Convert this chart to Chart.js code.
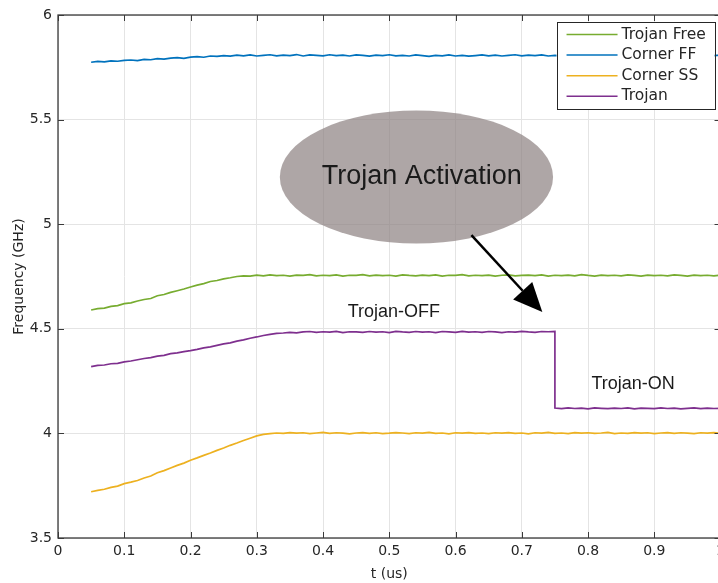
<!DOCTYPE html>
<html lang="en">
<head>
<meta charset="UTF-8">
<title>Trojan Activation</title>
<script src="https://cdn.jsdelivr.net/npm/chart.js"></script>
<style>
html, body { margin: 0; padding: 0; background: #fff; overflow: hidden; }
#wrap { width: 730px; height: 583px; }
</style>
</head>
<body>
<div id="wrap"><canvas id="freq"></canvas></div>
<script>
// time axis (us)
const t = [
  0.05, 0.06, 0.07, 0.08, 0.09, 0.10, 0.11, 0.12, 0.13, 0.14,
  0.15, 0.16, 0.17, 0.18, 0.19, 0.20, 0.21, 0.22, 0.23, 0.24,
  0.25, 0.26, 0.27, 0.28, 0.29, 0.30, 0.31, 0.32, 0.33, 0.34,
  0.35, 0.36, 0.37, 0.38, 0.39, 0.40, 0.41, 0.42, 0.43, 0.44,
  0.45, 0.46, 0.47, 0.48, 0.49, 0.50, 0.51, 0.52, 0.53, 0.54,
  0.55, 0.56, 0.57, 0.58, 0.59, 0.60, 0.61, 0.62, 0.63, 0.64,
  0.65, 0.66, 0.67, 0.68, 0.69, 0.70, 0.71, 0.72, 0.73, 0.74,
  0.75, 0.76, 0.77, 0.78, 0.79, 0.80, 0.81, 0.82, 0.83, 0.84,
  0.85, 0.86, 0.87, 0.88, 0.89, 0.90, 0.91, 0.92, 0.93, 0.94,
  0.95, 0.96, 0.97, 0.98, 0.99, 1.00
];

const trojanFree = [
  4.590, 4.596, 4.599, 4.607, 4.611, 4.620, 4.624, 4.633, 4.640, 4.645,
  4.658, 4.664, 4.674, 4.682, 4.690, 4.700, 4.709, 4.716, 4.726, 4.731,
  4.739, 4.744, 4.750, 4.753, 4.752, 4.757, 4.753, 4.758, 4.754, 4.756,
  4.752, 4.757, 4.755, 4.759, 4.753, 4.756, 4.754, 4.758, 4.752, 4.756,
  4.755, 4.759, 4.753, 4.757, 4.754, 4.756, 4.752, 4.758, 4.755, 4.753,
  4.757, 4.754, 4.758, 4.752, 4.756, 4.755, 4.759, 4.753, 4.756, 4.754,
  4.757, 4.752, 4.756, 4.758, 4.753, 4.755, 4.757, 4.754, 4.758, 4.752,
  4.756, 4.754, 4.757, 4.753, 4.759, 4.755, 4.752, 4.757, 4.754, 4.756,
  4.753, 4.758, 4.755, 4.752, 4.757, 4.754, 4.756, 4.753, 4.758, 4.755,
  4.752, 4.757, 4.754, 4.756, 4.753, 4.757
];

const cornerFF = [
  5.774, 5.778, 5.776, 5.781, 5.779, 5.783, 5.785, 5.782, 5.788, 5.786,
  5.791, 5.789, 5.794, 5.796, 5.793, 5.799, 5.801, 5.798, 5.804, 5.802,
  5.806, 5.803, 5.808, 5.805, 5.809, 5.804, 5.807, 5.810, 5.805, 5.808,
  5.806, 5.811, 5.804, 5.809, 5.807, 5.805, 5.810, 5.806, 5.808, 5.804,
  5.809, 5.807, 5.803, 5.808, 5.806, 5.810, 5.805, 5.807, 5.804, 5.809,
  5.806, 5.802, 5.807, 5.805, 5.809, 5.804, 5.807, 5.803, 5.806, 5.809,
  5.805, 5.808, 5.804, 5.807, 5.810, 5.805, 5.808, 5.806, 5.809, 5.804,
  5.807, 5.805, 5.810, 5.806, 5.808, 5.804, 5.807, 5.805, 5.809, 5.806,
  5.803, 5.808, 5.806, 5.810, 5.805, 5.807, 5.804, 5.809, 5.806, 5.808,
  5.805, 5.807, 5.804, 5.809, 5.806, 5.808
];

const cornerSS = [
  3.721, 3.728, 3.733, 3.742, 3.748, 3.760, 3.767, 3.775, 3.787, 3.796,
  3.812, 3.822, 3.835, 3.847, 3.858, 3.872, 3.883, 3.895, 3.906, 3.919,
  3.930, 3.943, 3.954, 3.966, 3.977, 3.988, 3.995, 3.999, 4.002, 4.000,
  4.004, 4.001, 4.003, 3.999, 4.002, 4.005, 4.000, 4.003, 4.001, 3.998,
  4.002, 4.004, 4.000, 4.003, 3.999, 4.001, 4.004, 4.002, 3.999, 4.003,
  4.001, 4.005, 4.000, 4.002, 3.998, 4.003, 4.001, 4.004, 4.000, 4.002,
  3.999, 4.003, 4.001, 4.004, 4.000, 4.002, 3.998, 4.003, 4.001, 4.005,
  4.000, 4.002, 3.999, 4.004, 4.001, 4.003, 4.000, 4.002, 4.005, 3.999,
  4.002, 4.000, 4.004, 4.001, 4.003, 3.999, 4.002, 4.004, 4.000, 4.003,
  4.001, 3.999, 4.003, 4.001, 4.004, 4.000
];

// Trojan: t = 0.05 .. 0.75 (off), then t = 0.75 .. 1.00 (on)
const trojanOff = [
  4.319, 4.325, 4.327, 4.333, 4.335, 4.342, 4.346, 4.352, 4.358, 4.362,
  4.369, 4.373, 4.381, 4.385, 4.391, 4.396, 4.402, 4.409, 4.414, 4.421,
  4.428, 4.433, 4.441, 4.447, 4.455, 4.461, 4.468, 4.473, 4.478, 4.480,
  4.483, 4.481, 4.485, 4.487, 4.483, 4.486, 4.484, 4.488, 4.482, 4.486,
  4.485, 4.483, 4.487, 4.484, 4.486, 4.482, 4.488, 4.485, 4.483, 4.487,
  4.484, 4.486, 4.482, 4.487, 4.485, 4.483, 4.488, 4.484, 4.486, 4.483,
  4.487, 4.485, 4.482, 4.486, 4.484, 4.488, 4.485, 4.483, 4.487, 4.486,
  4.488
];
const trojanOn = [
  4.121, 4.118, 4.122, 4.119, 4.121, 4.117, 4.122, 4.120, 4.118, 4.121,
  4.119, 4.122, 4.117, 4.121, 4.120, 4.118, 4.122, 4.119, 4.121, 4.117,
  4.120, 4.122, 4.118, 4.121, 4.119, 4.120
];

const seriesNames = ['Trojan Free', 'Corner FF', 'Corner SS', 'Trojan'];
const seriesColors = ['#77AC30', '#0072BD', '#EDB120', '#7E2F8E'];

const tickFont = { family: 'DejaVu Sans', size: 14 };
const textColor = '#262626';

function pts(xs, ys) {
  return ys.map((y, i) => ({ x: xs[i], y: y }));
}

const trojanData = pts(t, trojanOff).concat(pts(t.slice(trojanOff.length - 1), trojanOn));

// annotation plugin: ellipse, arrow, labels, legend box and the axes frame
const extras = {
  id: 'extras',
  afterDatasetsDraw(chart) {
    const ctx = chart.ctx;
    const xs = chart.scales.x, ys = chart.scales.y;
    const px = v => xs.getPixelForValue(v);
    const py = v => ys.getPixelForValue(v);
    const area = chart.chartArea;
    ctx.save();

    // ellipse
    const cx = px(0.541), cy = py(5.226);
    const rx = px(0.541 + 0.2062) - cx, ry = cy - py(5.226 + 0.318);
    ctx.beginPath();
    ctx.ellipse(cx, cy, rx, ry, 0, 0, Math.PI * 2);
    ctx.fillStyle = 'rgba(140,128,128,0.7)';
    ctx.fill();

    ctx.fillStyle = '#1a1a1a';
    ctx.textAlign = 'center';
    ctx.textBaseline = 'middle';
    ctx.font = '27px "Liberation Sans", Arial, sans-serif';
    ctx.fillText('Trojan Activation', px(0.549), py(5.227));

    // arrow
    const x1 = px(0.624), y1 = py(4.948), x2 = px(0.731), y2 = py(4.580);
    const ang = Math.atan2(y2 - y1, x2 - x1);
    const headLen = 29, headW = 13;
    const bx = x2 - headLen * Math.cos(ang), by = y2 - headLen * Math.sin(ang);
    ctx.strokeStyle = '#000';
    ctx.lineWidth = 2.5;
    ctx.beginPath();
    ctx.moveTo(x1, y1);
    ctx.lineTo(bx, by);
    ctx.stroke();
    ctx.fillStyle = '#000';
    ctx.beginPath();
    ctx.moveTo(x2, y2);
    ctx.lineTo(bx + headW * Math.sin(ang), by - headW * Math.cos(ang));
    ctx.lineTo(bx - headW * Math.sin(ang), by + headW * Math.cos(ang));
    ctx.closePath();
    ctx.fill();

    ctx.fillStyle = '#1a1a1a';
    ctx.font = '18px "Liberation Sans", Arial, sans-serif';
    ctx.fillText('Trojan-OFF', px(0.507), py(4.580));
    ctx.fillText('Trojan-ON', px(0.868), py(4.236));

    // frame with inward ticks
    ctx.strokeStyle = '#3a3a3a';
    ctx.lineWidth = 1.3;
    ctx.strokeRect(area.left, area.top, area.right - area.left, area.bottom - area.top);
    ctx.lineWidth = 1;
    ctx.beginPath();
    xs.ticks.forEach(tk => {
      const x = Math.round(px(tk.value)) + 0.5;
      ctx.moveTo(x, area.bottom); ctx.lineTo(x, area.bottom - 6);
      ctx.moveTo(x, area.top); ctx.lineTo(x, area.top + 6);
    });
    ys.ticks.forEach(tk => {
      const y = Math.round(py(tk.value)) + 0.5;
      ctx.moveTo(area.left, y); ctx.lineTo(area.left + 6, y);
      ctx.moveTo(area.right, y); ctx.lineTo(area.right - 6, y);
    });
    ctx.stroke();

    // legend
    const lw = 158, lh = 87;
    const lx = area.right - 6 - lw, ly = area.top + 7;
    ctx.fillStyle = '#fff';
    ctx.fillRect(lx, ly, lw, lh);
    ctx.strokeStyle = '#262626';
    ctx.lineWidth = 1;
    ctx.strokeRect(Math.round(lx) + 0.5, Math.round(ly) + 0.5, lw, lh);
    ctx.font = '15.5px "DejaVu Sans", sans-serif';
    ctx.textAlign = 'left';
    chart.data.datasets.forEach((ds, i) => {
      const rowY = ly + 12.5 + i * 20.6;
      ctx.strokeStyle = ds.borderColor;
      ctx.lineWidth = 1.5;
      ctx.beginPath();
      ctx.moveTo(lx + 10, rowY);
      ctx.lineTo(lx + 61, rowY);
      ctx.stroke();
      ctx.fillStyle = textColor;
      ctx.fillText(ds.label, lx + 65, rowY);
    });
    ctx.restore();
  }
};

const ctx = document.getElementById('freq').getContext('2d');
const freqChart = new Chart(ctx, {
  type: 'line',
  data: {
    datasets: [
      { label: seriesNames[0], data: pts(t, trojanFree), borderColor: seriesColors[0] },
      { label: seriesNames[1], data: pts(t, cornerFF), borderColor: seriesColors[1] },
      { label: seriesNames[2], data: pts(t, cornerSS), borderColor: seriesColors[2] },
      { label: seriesNames[3], data: trojanData, borderColor: seriesColors[3] }
    ]
  },
  options: {
    responsive: true,
    maintainAspectRatio: false,
    animation: false,
    layout: { padding: { top: 15, right: 0, bottom: 0, left: 0 } },
    elements: {
      point: { radius: 0 },
      line: { borderWidth: 1.7, tension: 0 }
    },
    plugins: {
      legend: { display: false },
      tooltip: { enabled: false }
    },
    scales: {
      x: {
        type: 'linear',
        min: 0,
        max: 1,
        afterFit: s => { s.height = 45; },
        border: { display: false },
        grid: { color: '#e4e4e4', drawTicks: false },
        ticks: {
          stepSize: 0.1,
          padding: 5,
          color: textColor,
          font: tickFont,
          callback: v => String(+v.toFixed(1))
        },
        title: {
          display: true,
          text: 't (us)',
          color: textColor,
          font: { family: 'DejaVu Sans', size: 14 },
          padding: { top: 0, bottom: 0 }
        }
      },
      y: {
        min: 3.5,
        max: 6,
        afterFit: s => { s.width = 58; },
        border: { display: false },
        grid: { color: '#e4e4e4', drawTicks: false },
        ticks: {
          stepSize: 0.5,
          padding: 6,
          color: textColor,
          font: tickFont,
          callback: v => String(+v.toFixed(1))
        },
        title: {
          display: true,
          text: 'Frequency (GHz)',
          color: textColor,
          font: { family: 'DejaVu Sans', size: 14 },
          padding: { top: 11, bottom: 0 }
        }
      }
    }
  },
  plugins: [extras]
});
</script>
</body>
</html>
